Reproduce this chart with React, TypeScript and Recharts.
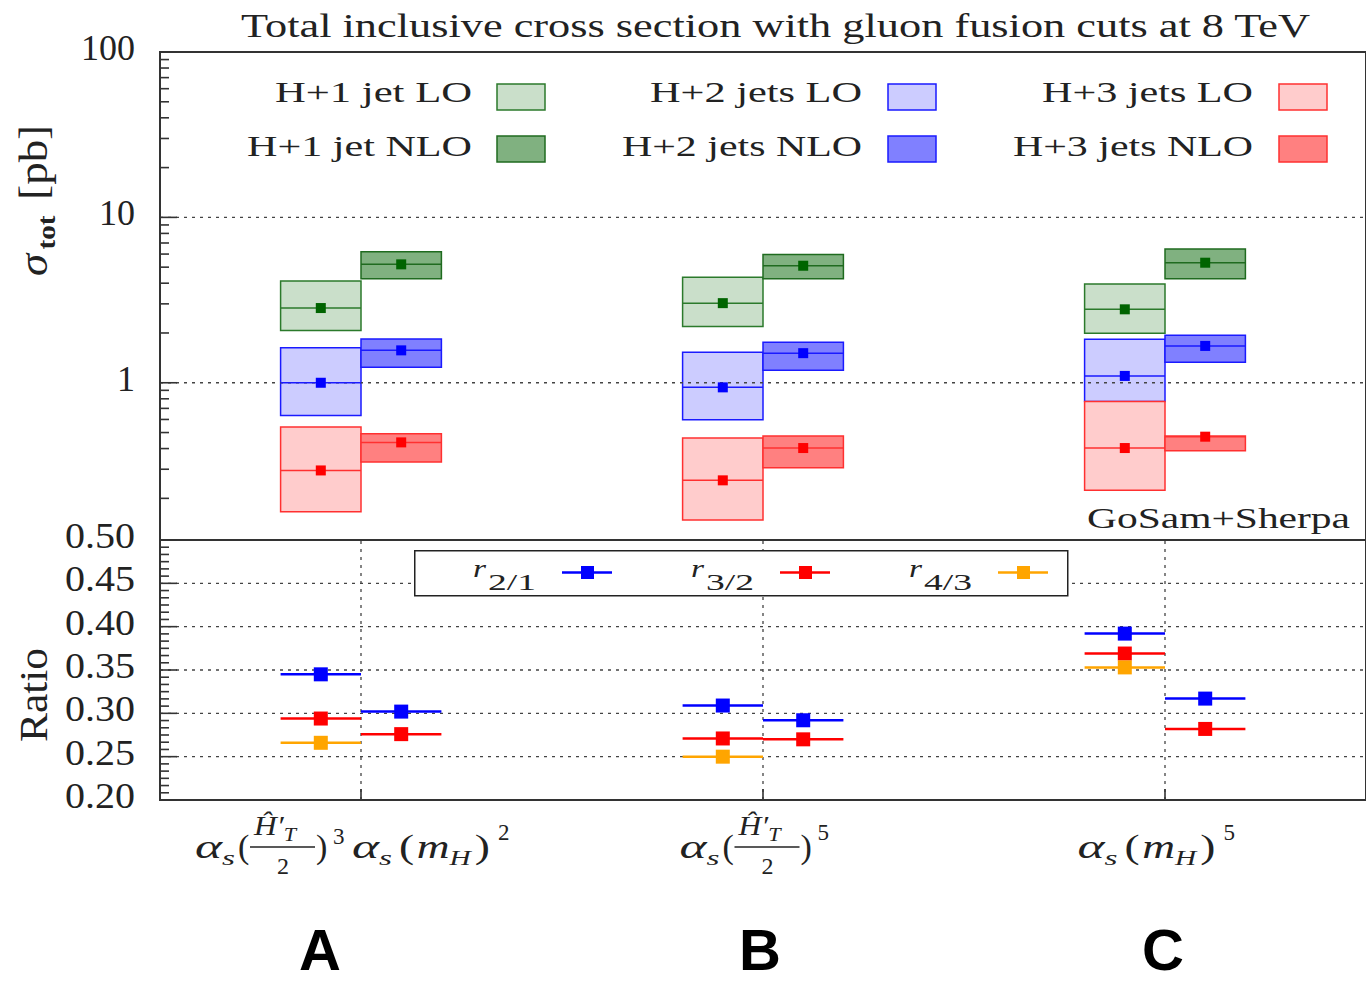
import React from 'react';
import { ComposedChart, Scatter, XAxis, YAxis, ReferenceArea, ReferenceLine, Legend } from 'recharts';

// ---------------- data ----------------
const groups = ['A', 'B', 'C'];
const scaleLabels = ['αs(Ĥ′T/2)³ αs(mH)²', 'αs(Ĥ′T/2)⁵', 'αs(mH)⁵'];
const scaleTokens = [
  ['aHT', 'sup:3', 'aMH', 'sup:2'],
  ['aHT', 'sup:5'],
  ['aMH', 'sup:5'],
];

// total cross sections [pb]
const h1LoCentral = [2.83, 3.03, 2.78];
const h1LoLow = [2.07, 2.19, 1.99];
const h1LoHigh = [4.12, 4.35, 3.95];
const h1NloCentral = [5.2, 5.1, 5.32];
const h1NloLow = [4.25, 4.25, 4.25];
const h1NloHigh = [6.19, 5.97, 6.43];
const h2LoCentral = [1.0, 0.938, 1.1];
const h2LoLow = [0.635, 0.597, 0.771];
const h2LoHigh = [1.63, 1.53, 1.83];
const h2NloCentral = [1.57, 1.51, 1.67];
const h2NloLow = [1.24, 1.19, 1.33];
const h2NloHigh = [1.84, 1.76, 1.94];
const h3LoCentral = [0.295, 0.257, 0.403];
const h3LoLow = [0.166, 0.148, 0.224];
const h3LoHigh = [0.54, 0.463, 0.771];
const h3NloCentral = [0.436, 0.403, 0.472];
const h3NloLow = [0.332, 0.306, 0.388];
const h3NloHigh = [0.492, 0.476, 0.476];

// ratios
const r21Lo = [0.345, 0.309, 0.392];
const r21Nlo = [0.302, 0.292, 0.317];
const r32Lo = [0.294, 0.271, 0.369];
const r32Nlo = [0.276, 0.27, 0.282];
const r43Lo = [0.266, 0.25, 0.353];

// ticks
const logTicks = [0.2, 0.3, 0.4, 0.5, 0.6, 0.7, 0.8, 0.9, 1, 2, 3, 4, 5, 6, 7, 8, 9, 10, 20, 30, 40, 50, 60, 70, 80, 90, 100];
const logTickLabels = ['1', '10', '100'];
const ratioMajorTicks = [0.2, 0.25, 0.3, 0.35, 0.4, 0.45, 0.5];
const ratioTickLabels = ['0.20', '0.25', '0.30', '0.35', '0.40', '0.45', '0.50'];
const ratioMinorTicks = ratioMajorTicks.slice(0, -1).flatMap((m) => [1, 2, 3, 4, 5].map((k) => +(m + (k * 0.05) / 6).toFixed(5)));
const ratioTicks = [...ratioMajorTicks, ...ratioMinorTicks].sort((a, b) => a - b);

const topLegendLabels = [
  ['H+1 jet LO', 'H+1 jet NLO'],
  ['H+2 jets LO', 'H+2 jets NLO'],
  ['H+3 jets LO', 'H+3 jets NLO'],
];
const ratioLegendLabels = ['2/1', '3/2', '4/3'];

// ---------------- styles ----------------
const FONT = 'Liberation Serif, serif';
const SANS = 'Liberation Sans, Arial, sans-serif';
const INK = '#222';
const FRAME = '#333';
const BOX_W = 0.2;

const topSeries = [
  { key: 'h1lo', central: h1LoCentral, low: h1LoLow, high: h1LoHigh, side: -1, fill: '#cadfca', stroke: '#2b7a2b', marker: '#006400' },
  { key: 'h1nlo', central: h1NloCentral, low: h1NloLow, high: h1NloHigh, side: 1, fill: '#80b180', stroke: '#1f6b1f', marker: '#006400' },
  { key: 'h2lo', central: h2LoCentral, low: h2LoLow, high: h2LoHigh, side: -1, fill: '#ccccff', stroke: '#1a1aff', marker: '#0000ff' },
  { key: 'h2nlo', central: h2NloCentral, low: h2NloLow, high: h2NloHigh, side: 1, fill: '#8080ff', stroke: '#1a1aff', marker: '#0000ff' },
  { key: 'h3lo', central: h3LoCentral, low: h3LoLow, high: h3LoHigh, side: -1, fill: '#ffcccc', stroke: '#ff3030', marker: '#ff0000' },
  { key: 'h3nlo', central: h3NloCentral, low: h3NloLow, high: h3NloHigh, side: 1, fill: '#ff8080', stroke: '#ff3030', marker: '#ff0000' },
];
const legendSwatches = [
  [topSeries[0], topSeries[1]],
  [topSeries[2], topSeries[3]],
  [topSeries[4], topSeries[5]],
];

const ratioSeries = [
  { key: 'r21lo', values: r21Lo, side: -1, color: '#0000ff' },
  { key: 'r21nlo', values: r21Nlo, side: 1, color: '#0000ff' },
  { key: 'r32lo', values: r32Lo, side: -1, color: '#ff0000' },
  { key: 'r32nlo', values: r32Nlo, side: 1, color: '#ff0000' },
  { key: 'r43lo', values: r43Lo, side: -1, color: '#ffa500' },
];
const ratioLegendColors = ['#0000ff', '#ff0000', '#ffa500'];

const LOG_DOMAIN = [0.112, 100];
const RATIO_DOMAIN = [0.2, 0.5];
const X_DOMAIN = [-0.5, 2.5];

const xLo = (i: number, side: number) => (side < 0 ? i - BOX_W : i);
const xHi = (i: number, side: number) => (side < 0 ? i : i + BOX_W);

const square = (size: number, color: string) => (p: any) =>
  p.cx == null ? <g /> : <rect x={p.cx - size / 2} y={p.cy - size / 2} width={size} height={size} fill={color} />;

// ---------------- ticks ----------------
function LogTick(props: any) {
  const { x, y, payload, side } = props;
  const v = payload ? payload.value : 0;
  const label = logTickLabels.find((l) => Number(l) === v);
  const len = label ? 17 : 9;
  const dir = side === 'right' ? -1 : 1;
  return (
    <g>
      <line x1={x} x2={x + dir * len} y1={y} y2={y} stroke={FRAME} strokeWidth={1.6} />
      {label && side !== 'right' ? (
        <text x={x - 25} y={y + 8} textAnchor="end" fontSize={36} fontFamily={FONT} fill={INK}>
          {label}
        </text>
      ) : null}
    </g>
  );
}

function RatioTick(props: any) {
  const { x, y, payload, side } = props;
  const v = payload ? payload.value : 0;
  const idx = ratioMajorTicks.findIndex((m) => Math.abs(m - v) < 1e-6);
  const len = idx >= 0 ? 17 : 9;
  const dir = side === 'right' ? -1 : 1;
  return (
    <g>
      <line x1={x} x2={x + dir * len} y1={y} y2={y} stroke={FRAME} strokeWidth={1.6} />
      {idx >= 0 && side !== 'right' ? (
        <text x={x - 25} y={y + 8} textAnchor="end" fontSize={36} fontFamily={FONT} fill={INK} textLength={70} lengthAdjust="spacingAndGlyphs">
          {ratioTickLabels[idx]}
        </text>
      ) : null}
    </g>
  );
}

const TOKEN_ADV: Record<string, number> = { aHT: 138, aMH: 146, sup: 19 };
const letterOffsets = [-41, -3, -2];

function AlphaS({ l, Y }: { l: number; Y: number }) {
  return (
    <text x={l} y={Y} fontSize={34} fontStyle="italic" fontFamily={FONT} fill={INK} textLength={40} lengthAdjust="spacingAndGlyphs">
      α<tspan dy={7} fontSize={22}>s</tspan>
    </text>
  );
}

function Token({ t, l, Y }: { t: string; l: number; Y: number }) {
  const common = { fontFamily: FONT, fill: INK } as any;
  if (t === 'aHT') {
    return (
      <g>
        <AlphaS l={l} Y={Y} />
        <text x={l + 43} y={Y} fontSize={34} {...common}>(</text>
        <text x={l + 59} y={Y - 23} fontSize={27} fontStyle="italic" {...common} textLength={42} lengthAdjust="spacingAndGlyphs">
          Ĥ′<tspan dy={6} fontSize={19}>T</tspan>
        </text>
        <line x1={l + 55} x2={l + 120} y1={Y - 11} y2={Y - 11} stroke={INK} strokeWidth={1.6} />
        <text x={l + 88} y={Y + 16} fontSize={24} textAnchor="middle" {...common}>2</text>
        <text x={l + 121} y={Y} fontSize={34} {...common}>)</text>
      </g>
    );
  }
  if (t === 'aMH') {
    return (
      <g>
        <AlphaS l={l} Y={Y} />
        <text x={l + 47} y={Y} fontSize={34} {...common} textLength={91} lengthAdjust="spacingAndGlyphs">
          (<tspan fontStyle="italic" dx={2}>m</tspan>
          <tspan fontStyle="italic" fontSize={22} dy={7}>H</tspan>
          <tspan dy={-7} dx={3}>)</tspan>
        </text>
      </g>
    );
  }
  const d = t.split(':')[1];
  return (
    <text x={l} y={Y - (d === '3' ? 14 : 18)} fontSize={23} {...common}>
      {d}
    </text>
  );
}

function ScaleTick(props: any) {
  const { x, y, payload } = props;
  const i = payload ? Math.round(payload.value) : 0;
  const tokens = scaleTokens[i] || [];
  const adv = (t: string) => TOKEN_ADV[t.split(':')[0]];
  const total = tokens.reduce((s, t) => s + adv(t), 0);
  let cur = x - total / 2 - 5;
  const Y = y + 58;
  const items = tokens.map((t, k) => {
    const el = <Token key={k} t={t} l={cur} Y={Y} />;
    cur += adv(t);
    return el;
  });
  return (
    <g>
      <title>{scaleLabels[i]}</title>
      <line x1={x} x2={x} y1={y} y2={y - 11} stroke={FRAME} strokeWidth={1.6} />
      {items}
      <text x={x + letterOffsets[i]} y={y + 170} textAnchor="middle" fontSize={58} fontWeight="bold" fontFamily={SANS} fill="#000">
        {groups[i]}
      </text>
    </g>
  );
}

function TopTick(props: any) {
  const { x, y } = props;
  return <line x1={x} x2={x} y1={y} y2={y + 11} stroke={FRAME} strokeWidth={1.6} />;
}

// ---------------- legends ----------------
const legendRight = [472, 862, 1253];
const legendSwatchX = [497, 888, 1279];
const legendTextWidths = [
  [197, 225],
  [212, 240],
  [211, 240],
];

function TopLegend() {
  return (
    <svg width={1366} height={100} style={{ display: 'block' }}>
      {topLegendLabels.map((col, c) =>
        col.map((lab, r) => (
          <g key={`${c}-${r}`}>
            <text
              x={legendRight[c]}
              y={32 + r * 54}
              textAnchor="end"
              fontSize={29}
              fontFamily={FONT}
              fill={INK}
              textLength={legendTextWidths[c][r]}
              lengthAdjust="spacingAndGlyphs"
            >
              {lab}
            </text>
            <rect x={legendSwatchX[c]} y={14 + r * 52} width={48} height={26} fill={legendSwatches[c][r].fill} stroke={legendSwatches[c][r].stroke} strokeWidth={1.5} />
          </g>
        ))
      )}
    </svg>
  );
}

function RatioLegend() {
  return (
    <svg width={656} height={48} style={{ display: 'block' }}>
      <rect x={0.75} y={0.75} width={653} height={45} fill="#fff" stroke="#222" strokeWidth={1.5} />
      {ratioLegendLabels.map((lab, k) => {
        const o = 59 + 218 * k;
        return (
          <g key={k}>
            <text x={o} y={27} fontSize={25} fontStyle="italic" fontFamily={FONT} fill={INK} textLength={13} lengthAdjust="spacingAndGlyphs">r</text>
            <text x={o + 15} y={40} fontSize={23} fontFamily={FONT} fill={INK} textLength={48} lengthAdjust="spacingAndGlyphs">{lab}</text>
            <line x1={o + 89} x2={o + 139} y1={22.5} y2={22.5} stroke={ratioLegendColors[k]} strokeWidth={2.5} />
            <rect x={o + 108} y={16} width={13} height={13} fill={ratioLegendColors[k]} />
          </g>
        );
      })}
    </svg>
  );
}

// ---------------- charts ----------------
function TopChart() {
  return (
    <ComposedChart width={1366} height={560} margin={{ top: 52, right: 0, bottom: 20, left: 0 }}>
      <XAxis type="number" dataKey="x" domain={X_DOMAIN} hide allowDataOverflow />
      <YAxis
        type="number"
        scale="log"
        domain={LOG_DOMAIN}
        ticks={logTicks}
        interval={0}
        width={160}
        tickSize={0}
        tickMargin={0}
        axisLine={false}
        tickLine={false}
        tick={<LogTick side="left" />}
        allowDataOverflow
      />
      <YAxis
        yAxisId="right"
        orientation="right"
        type="number"
        scale="log"
        domain={LOG_DOMAIN}
        ticks={logTicks}
        interval={0}
        width={0}
        tickSize={0}
        tickMargin={0}
        axisLine={false}
        tickLine={false}
        tick={<LogTick side="right" />}
        allowDataOverflow
      />
      {[1, 10].map((v) => (
        <ReferenceLine key={`g${v}`} y={v} stroke="#444" strokeWidth={1.3} strokeDasharray="3 5" />
      ))}
      {topSeries.flatMap((s) =>
        groups.map((g, i) => (
          <ReferenceArea
            key={`${s.key}-box-${g}`}
            x1={xLo(i, s.side)}
            x2={xHi(i, s.side)}
            y1={s.low[i]}
            y2={s.high[i]}
            fill={s.fill}
            fillOpacity={1}
            stroke={s.stroke}
            strokeWidth={1.5}
            ifOverflow="visible"
          />
        ))
      )}
      {topSeries.flatMap((s) =>
        groups.map((g, i) => (
          <ReferenceLine
            key={`${s.key}-c-${g}`}
            segment={[
              { x: xLo(i, s.side), y: s.central[i] },
              { x: xHi(i, s.side), y: s.central[i] },
            ]}
            stroke={s.stroke}
            strokeWidth={1.5}
          />
        ))
      )}
      <ReferenceArea x1={X_DOMAIN[0]} x2={X_DOMAIN[1]} y1={LOG_DOMAIN[0]} y2={LOG_DOMAIN[1]} fill="none" stroke={FRAME} strokeWidth={2} ifOverflow="visible" />
      {topSeries.map((s) => (
        <Scatter
          key={s.key}
          name={s.key}
          data={groups.map((g, i) => ({ x: i + s.side * (BOX_W / 2), y: s.central[i] }))}
          dataKey="y"
          shape={square(10, s.marker)}
          isAnimationActive={false}
        />
      ))}
      <Legend
        layout="horizontal"
        verticalAlign="middle"
        align="center"
        content={() => <TopLegend />}
        wrapperStyle={{ position: 'absolute', left: 0, top: 70, width: 1366, height: 100 }}
      />
    </ComposedChart>
  );
}

function RatioChart() {
  return (
    <ComposedChart width={1366} height={483} margin={{ top: 40, right: 0, bottom: 0, left: 0 }}>
      <XAxis
        type="number"
        dataKey="x"
        domain={X_DOMAIN}
        ticks={groups.map((g, i) => i)}
        interval={0}
        height={183}
        tickSize={0}
        tickMargin={0}
        axisLine={false}
        tickLine={false}
        tick={<ScaleTick />}
        allowDataOverflow
      />
      <XAxis
        xAxisId="top"
        orientation="top"
        type="number"
        domain={X_DOMAIN}
        ticks={groups.map((g, i) => i)}
        interval={0}
        height={0}
        tickSize={0}
        tickMargin={0}
        axisLine={false}
        tickLine={false}
        tick={<TopTick />}
        allowDataOverflow
      />
      <YAxis
        type="number"
        domain={RATIO_DOMAIN}
        ticks={ratioTicks}
        interval={0}
        width={160}
        tickSize={0}
        tickMargin={0}
        axisLine={false}
        tickLine={false}
        tick={<RatioTick side="left" />}
        allowDataOverflow
      />
      <YAxis
        yAxisId="right"
        orientation="right"
        type="number"
        domain={RATIO_DOMAIN}
        ticks={ratioTicks}
        interval={0}
        width={0}
        tickSize={0}
        tickMargin={0}
        axisLine={false}
        tickLine={false}
        tick={<RatioTick side="right" />}
        allowDataOverflow
      />
      {ratioMajorTicks.slice(1, -1).map((v) => (
        <ReferenceLine key={`gy${v}`} y={v} stroke="#444" strokeWidth={1.3} strokeDasharray="3 5" />
      ))}
      {groups.map((g, i) => (
        <ReferenceLine key={`gx${g}`} x={i} stroke="#444" strokeWidth={1.3} strokeDasharray="3 5" />
      ))}
      {ratioSeries.flatMap((s) =>
        groups.map((g, i) => (
          <ReferenceLine
            key={`${s.key}-l-${g}`}
            segment={[
              { x: xLo(i, s.side), y: s.values[i] },
              { x: xHi(i, s.side), y: s.values[i] },
            ]}
            stroke={s.color}
            strokeWidth={2.5}
          />
        ))
      )}
      <ReferenceArea x1={X_DOMAIN[0]} x2={X_DOMAIN[1]} y1={RATIO_DOMAIN[0]} y2={RATIO_DOMAIN[1]} fill="none" stroke={FRAME} strokeWidth={2} ifOverflow="visible" />
      {ratioSeries.map((s) => (
        <Scatter
          key={s.key}
          name={s.key}
          data={groups.map((g, i) => ({ x: i + s.side * (BOX_W / 2), y: s.values[i] }))}
          dataKey="y"
          shape={square(14, s.color)}
          isAnimationActive={false}
        />
      ))}
      <Legend
        layout="horizontal"
        verticalAlign="middle"
        align="center"
        content={() => <RatioLegend />}
        wrapperStyle={{ position: 'absolute', left: 414, top: 50, width: 656, height: 48 }}
      />
    </ComposedChart>
  );
}

export default function App() {
  return (
    <div style={{ position: 'absolute', left: 0, top: 0, width: 1366, height: 983, background: '#fff', overflow: 'hidden' }}>
      <div style={{ position: 'absolute', left: 0, top: 0 }}>
        <TopChart />
      </div>
      <div style={{ position: 'absolute', left: 0, top: 500 }}>
        <RatioChart />
      </div>
      <svg width={1366} height={983} style={{ position: 'absolute', left: 0, top: 0, pointerEvents: 'none' }}>
        <text x={241} y={37} fontSize={33} fontFamily={FONT} fill={INK} textLength={1069} lengthAdjust="spacingAndGlyphs">
          Total inclusive cross section with gluon fusion cuts at 8 TeV
        </text>
        <g transform="translate(47,276) rotate(-90)">
          <text x={0} y={0} fontSize={40} fontStyle="italic" fontFamily={FONT} fill={INK} textLength={151} lengthAdjust="spacingAndGlyphs">
            σ<tspan dy={8} dx={4} fontSize={26} fontWeight="bold" fontStyle="normal">tot</tspan>
            <tspan dy={-8} dx={14} fontStyle="normal">[pb]</tspan>
          </text>
        </g>
        <g transform="translate(47,742) rotate(-90)">
          <text x={0} y={0} fontSize={40} fontFamily={FONT} fill={INK} textLength={94} lengthAdjust="spacingAndGlyphs">Ratio</text>
        </g>
        <text x={1087} y={528} fontSize={30} fontFamily={FONT} fill={INK} textLength={263} lengthAdjust="spacingAndGlyphs">
          GoSam+Sherpa
        </text>
      </svg>
    </div>
  );
}
